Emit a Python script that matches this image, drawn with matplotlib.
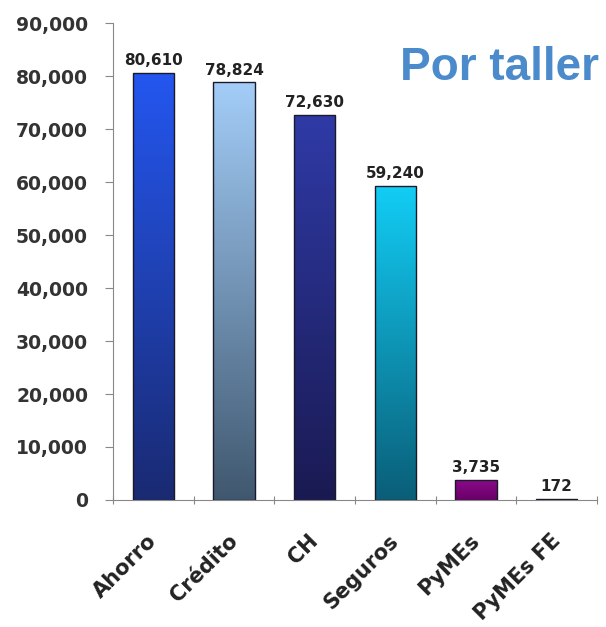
import matplotlib
matplotlib.use("Agg")
import matplotlib.pyplot as plt
import numpy as np
from matplotlib.colors import LinearSegmentedColormap
from matplotlib.ticker import FuncFormatter

categories = ["Ahorro", "Crédito", "CH", "Seguros", "PyMEs", "PyMEs FE"]
values = [80610, 78824, 72630, 59240, 3735, 172]
value_labels = ["80,610", "78,824", "72,630", "59,240", "3,735", "172"]
top_colors = ["#2457f0", "#a3cdf8", "#2f3aa6", "#12cdf5", "#8a0a88", "#8a0a88"]
bottom_colors = ["#1a2a72", "#40586f", "#1a1a52", "#0a5e78", "#6a0068", "#6a0068"]
y_ticks = [0, 10000, 20000, 30000, 40000, 50000, 60000, 70000, 80000, 90000]

plt.rcParams['font.family'] = ['DejaVu Sans']
fig = plt.figure(figsize=(6.06, 6.27), dpi=100)
ax = fig.add_axes([0.1865, 0.2026, 0.7985, 0.7604])

x = np.arange(len(categories))
bars = ax.bar(x, values, width=0.51, color="none", edgecolor="#1a1a2a", linewidth=1.0, zorder=3)
for b, tc, bc in zip(bars, top_colors, bottom_colors):
    cmap = LinearSegmentedColormap.from_list("g", [bc, tc])
    grad = np.linspace(0, 1, 256).reshape(-1, 1)
    x0, y0 = b.get_x(), b.get_y()
    w, h = b.get_width(), b.get_height()
    im = ax.imshow(grad, cmap=cmap, aspect="auto", origin="lower",
                   extent=[x0, x0 + w, y0, y0 + h], zorder=2)
    im.set_clip_path(b)

for xi, v, lab in zip(x, values, value_labels):
    ax.text(xi, v + 900, lab, ha="center", va="bottom", fontsize=11,
            fontweight="bold", color="#222222")

ax.set_xlim(-0.5, len(categories) - 0.5)
ax.set_ylim(0, 90000)
ax.set_yticks(y_ticks)
ax.yaxis.set_major_formatter(FuncFormatter(lambda v, p: f"{int(v):,}"))
ax.set_xticks(np.arange(len(categories) + 1) - 0.5, minor=False)
ax.set_xticklabels([])
ax.set_xticks(x - 0.08, minor=True)
ax.set_xticklabels(categories, minor=True, rotation=45, ha="right",
                   rotation_mode="anchor", fontsize=15, fontweight="bold", color="#222222")
ax.tick_params(axis="x", which="minor", length=0, pad=22)
ax.tick_params(axis="x", which="major", length=6, direction="inout", color="#888888")
ax.tick_params(axis="y", length=6, direction="out", color="#888888", labelsize=13.5,
               labelcolor="#333333", pad=12)
for lab in ax.get_yticklabels():
    lab.set_fontweight("bold")
for s in ["top", "right"]:
    ax.spines[s].set_visible(False)
ax.spines["left"].set_color("#888888")
ax.spines["bottom"].set_color("#888888")

ax.text(1.005, 0.905, "Por taller", transform=ax.transAxes, ha="right", va="center",
        fontsize=33, fontweight="bold", color="#4b8bcb", family="Liberation Sans")

fig.savefig("out.png", dpi=100)
